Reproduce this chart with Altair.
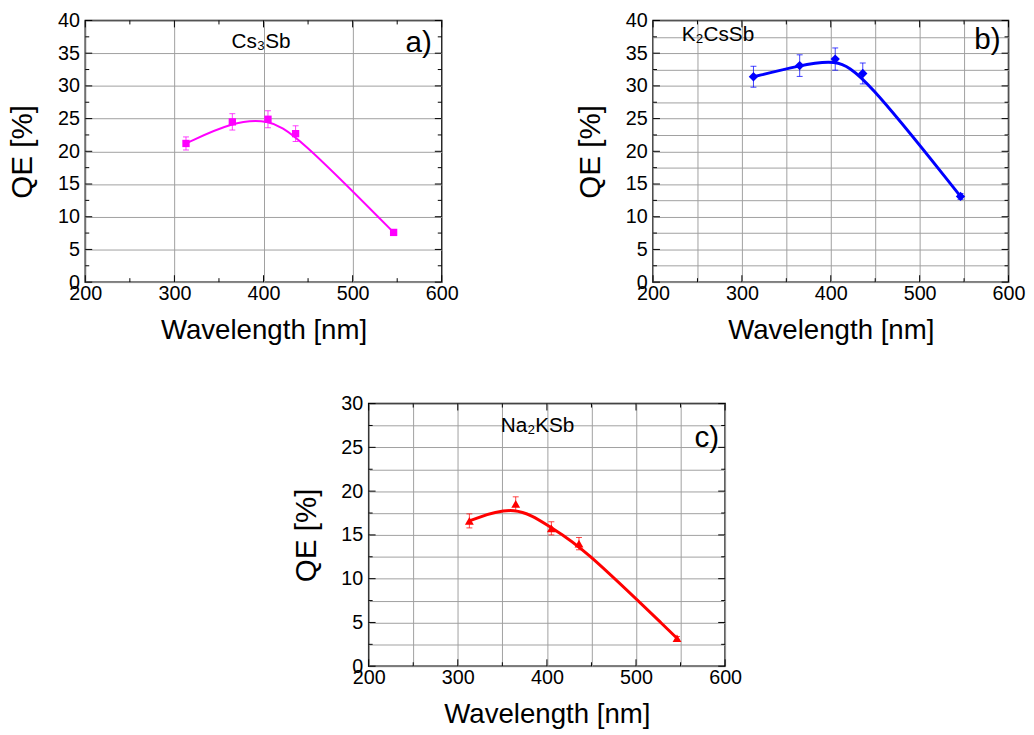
import altair as alt
import pandas as pd

# ---- data ----
wavelength = [313, 365, 405, 436, 546]

qe_cs3sb = [21.2, 24.5, 24.9, 22.7, 7.6]
err_cs3sb = [1.0, 1.25, 1.3, 1.2, 0.3]

qe_k2cssb = [31.4, 33.1, 34.1, 31.9, 13.1]
err_k2cssb = [1.6, 1.65, 1.7, 1.6, 0.45]

qe_na2ksb = [16.6, 18.55, 15.75, 14.0, 3.2]
err_na2ksb = [0.8, 0.8, 0.75, 0.7, 0.2]

materials = ["Cs₃Sb", "K₂CsSb", "Na₂KSb"]
panel_letters = ["a)", "b)", "c)"]

x_ticks_major = [200, 300, 400, 500, 600]
x_ticks_minor = [250, 350, 450, 550]
y_ticks_major_40 = [0, 5, 10, 15, 20, 25, 30, 35, 40]
y_ticks_minor_40 = [2.5, 7.5, 12.5, 17.5, 22.5, 27.5, 32.5, 37.5]
y_ticks_major_30 = [0, 5, 10, 15, 20, 25, 30]
y_ticks_minor_30 = [2.5, 7.5, 12.5, 17.5, 22.5, 27.5]

FONT = "Liberation Sans"
GRID = "#a0a0a0"


def panel(qe, err, color, shape, msize, lw, ymaj, ymin, fine_grid,
          mat, letter, mat_xy, mat_align, letter_xy, w, h):
    ymax = ymaj[-1]
    df = pd.DataFrame({
        "wl": wavelength,
        "qe": qe,
        "lo": [q - e for q, e in zip(qe, err)],
        "hi": [q + e for q, e in zip(qe, err)],
    })
    xscale = alt.Scale(domain=[200, 600], nice=False, zero=False)
    yscale = alt.Scale(domain=[0, ymax], nice=False, zero=False)
    xvals = sorted(x_ticks_major + x_ticks_minor) if fine_grid else x_ticks_major
    yvals = sorted(ymaj + ymin) if fine_grid else ymaj
    common = dict(grid=True, gridColor=GRID, gridWidth=1, ticks=False, domain=False,
                  labelOverlap=False, labelFlush=False, labelFont=FONT, labelFontSize=20,
                  labelColor="black", titleFont=FONT,
                  titleFontWeight="normal", titleColor="black")
    xaxis = alt.Axis(values=xvals, labelPadding=2, titleFontSize=28,
                     labelExpr="datum.value % 100 === 0 ? format(datum.value, 'd') : ''",
                     titlePadding=13, **common)
    yaxis = alt.Axis(values=yvals, labelPadding=6, titleFontSize=30,
                     labelExpr="datum.value % 5 === 0 ? format(datum.value, 'd') : ''",
                     titlePadding=20, **common)

    def X(f):
        return alt.X(f, type="quantitative", scale=xscale, axis=xaxis, title="Wavelength [nm]")

    def Y(f):
        return alt.Y(f, type="quantitative", scale=yscale, axis=yaxis, title="QE [%]")

    base = alt.Chart(df)
    line = base.mark_line(interpolate="basis", color=color, strokeWidth=lw).encode(x=X("wl"), y=Y("qe"))
    bars = base.mark_rule(color=color, strokeWidth=1, opacity=0.75).encode(x=X("wl"), y=Y("lo"), y2="hi")
    cap_lo = base.mark_tick(color=color, orient="horizontal", size=6, thickness=1, opacity=0.75).encode(x=X("wl"), y=Y("lo"))
    cap_hi = base.mark_tick(color=color, orient="horizontal", size=6, thickness=1, opacity=0.75).encode(x=X("wl"), y=Y("hi"))
    pts = base.mark_point(shape=shape, filled=True, size=msize, color=color, opacity=1).encode(x=X("wl"), y=Y("qe"))

    layers = [line, bars, cap_lo, cap_hi, pts]

    # inward tick marks on all four sides
    for vals, ln in ((ymaj, 7), (ymin, 4)):
        d = alt.Chart(pd.DataFrame({"t": vals}))
        layers.append(d.mark_rule(color="black", strokeWidth=1).encode(y=Y("t"), x=alt.value(0), x2=alt.value(ln)))
        layers.append(d.mark_rule(color="black", strokeWidth=1).encode(y=Y("t"), x=alt.value(w), x2=alt.value(w - ln)))
    for vals, ln in ((x_ticks_major, 7), (x_ticks_minor, 4)):
        d = alt.Chart(pd.DataFrame({"t": vals}))
        layers.append(d.mark_rule(color="black", strokeWidth=1).encode(x=X("t"), y=alt.value(h), y2=alt.value(h - ln)))
        layers.append(d.mark_rule(color="black", strokeWidth=1).encode(x=X("t"), y=alt.value(0), y2=alt.value(ln)))

    mt = alt.Chart(pd.DataFrame({"t": [mat]})).mark_text(
        font=FONT, fontSize=21, color="black", align=mat_align, baseline="middle"
    ).encode(text="t:N", x=alt.value(mat_xy[0]), y=alt.value(mat_xy[1]))
    lt = alt.Chart(pd.DataFrame({"t": [letter]})).mark_text(
        font=FONT, fontSize=30, color="black", align="right", baseline="middle"
    ).encode(text="t:N", x=alt.value(letter_xy[0]), y=alt.value(letter_xy[1]))
    layers += [mt, lt]

    return alt.layer(*layers).properties(width=w, height=h)


pa = panel(qe_cs3sb, err_cs3sb, "#ff00ff", "square", 55, 2, y_ticks_major_40, y_ticks_minor_40, False,
           materials[0], panel_letters[0], (178, 22), "center", (351, 23), 361, 265)
pb = panel(qe_k2cssb, err_k2cssb, "#0000ff", "diamond", 90, 3, y_ticks_major_40, y_ticks_minor_40, True,
           materials[1], panel_letters[1], (29, 15), "left", (352, 20), 360, 265)
pc = panel(qe_na2ksb, err_na2ksb, "#ff0000", "triangle-up", 80, 3, y_ticks_major_30, y_ticks_minor_30, True,
           materials[2], panel_letters[2], (171, 23), "center", (355, 35), 361, 266)

top = alt.hconcat(pa, pb, spacing=117)
chart = alt.vconcat(top, pc, spacing=48, center=True).properties(
    padding={"left": -1, "top": -3, "right": 0, "bottom": 0},
    background="white",
).configure_view(
    stroke="black", strokeWidth=1.5
)

chart.save("out.html", embed_options={"renderer": "svg", "actions": False})
